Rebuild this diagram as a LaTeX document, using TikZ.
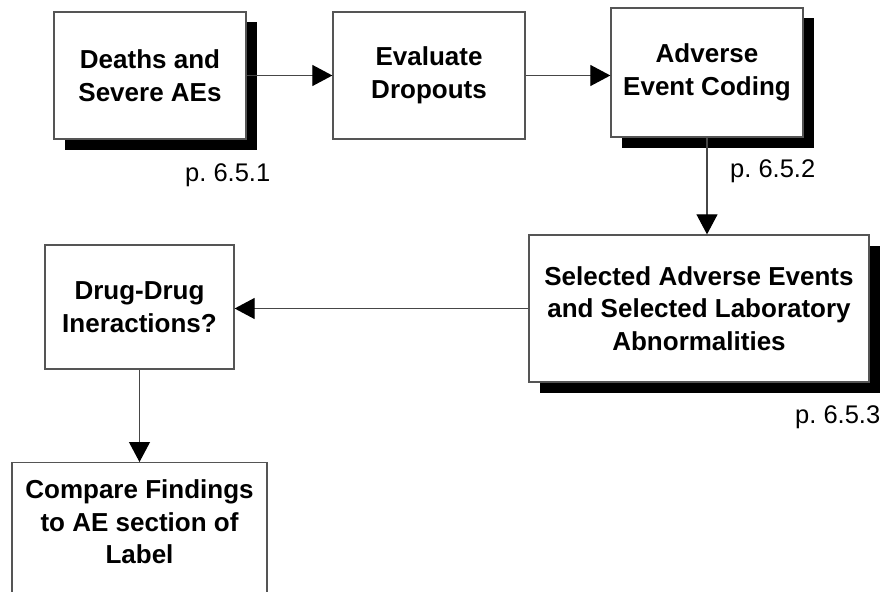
\documentclass[tikz,border=0pt]{standalone}
\usepackage{fontspec}
\setmainfont{Liberation Sans}
\usetikzlibrary{arrows.meta,shadows}
\definecolor{boxline}{RGB}{85,85,85}
\definecolor{connline}{RGB}{70,70,70}
\frenchspacing
\begin{document}
\begin{tikzpicture}[x=1pt,y=-1pt,
  box/.style={draw=boxline, line width=1.3pt, fill=white, inner sep=0pt,
    align=center, font=\fontsize{26}{32.5}\selectfont\bfseries},
  shadowbox/.style={box, general shadow={fill=black, shadow xshift=10.5pt, shadow yshift=-10.5pt}},
  boxtext/.style={inner sep=0pt, align=center, font=\fontsize{26}{32.5}\selectfont\bfseries},
  conn/.style={draw=connline, line width=1.1pt,
    -{Triangle[length=20pt,width=21pt,color=black]}},
  pageref/.style={font=\fontsize{25.5}{30}\selectfont, inner sep=0pt, anchor=base west}]

% page area
\clip (0,0) rectangle (885,591);
\fill[white] (0,0) rectangle (885,591);

% process boxes
\node[shadowbox, minimum width=192pt, minimum height=127pt] (deaths) at (150,75.5)
  {Deaths and\\Severe AEs};
\node[box, minimum width=192pt, minimum height=127pt] (dropouts) at (429,75.5)
  {Evaluate\\Dropouts};
\node[shadowbox, minimum width=192pt, minimum height=129pt] (coding) at (707,72.5)
  {Adverse\\Event Coding};
\node[shadowbox, minimum width=340pt, minimum height=147pt] (selected) at (699,308.5)
  {Selected Adverse Events\\and Selected Laboratory\\Abnormalities};
\node[box, minimum width=189pt, minimum height=124pt] (druginter) at (139.5,307)
  {Drug-Drug\\Ineractions?};
\node[box, minimum width=255pt, minimum height=200pt, anchor=north] (compare) at (139.5,462) {};
\node[boxtext, anchor=north] (comparetext) at ([yshift=-17.5pt]compare.north)
  {Compare Findings\\to AE section of\\Label};

% page references
\node[pageref] (ref1) at (185,181) {p. 6.5.1};
\node[pageref] (ref2) at (730,177) {p. 6.5.2};
\node[pageref] (ref3) at (795,423) {p. 6.5.3};

% flow
\draw[conn] (deaths.east) -- (deaths.east -| dropouts.west);
\draw[conn] (dropouts.east) -- (dropouts.east -| coding.west);
\draw[conn] (coding.south) -- (coding.south |- selected.north);
\draw[conn] (selected.west) -- (selected.west -| druginter.east);
\draw[conn] (druginter.south) -- (compare.north);
\end{tikzpicture}
\end{document}
